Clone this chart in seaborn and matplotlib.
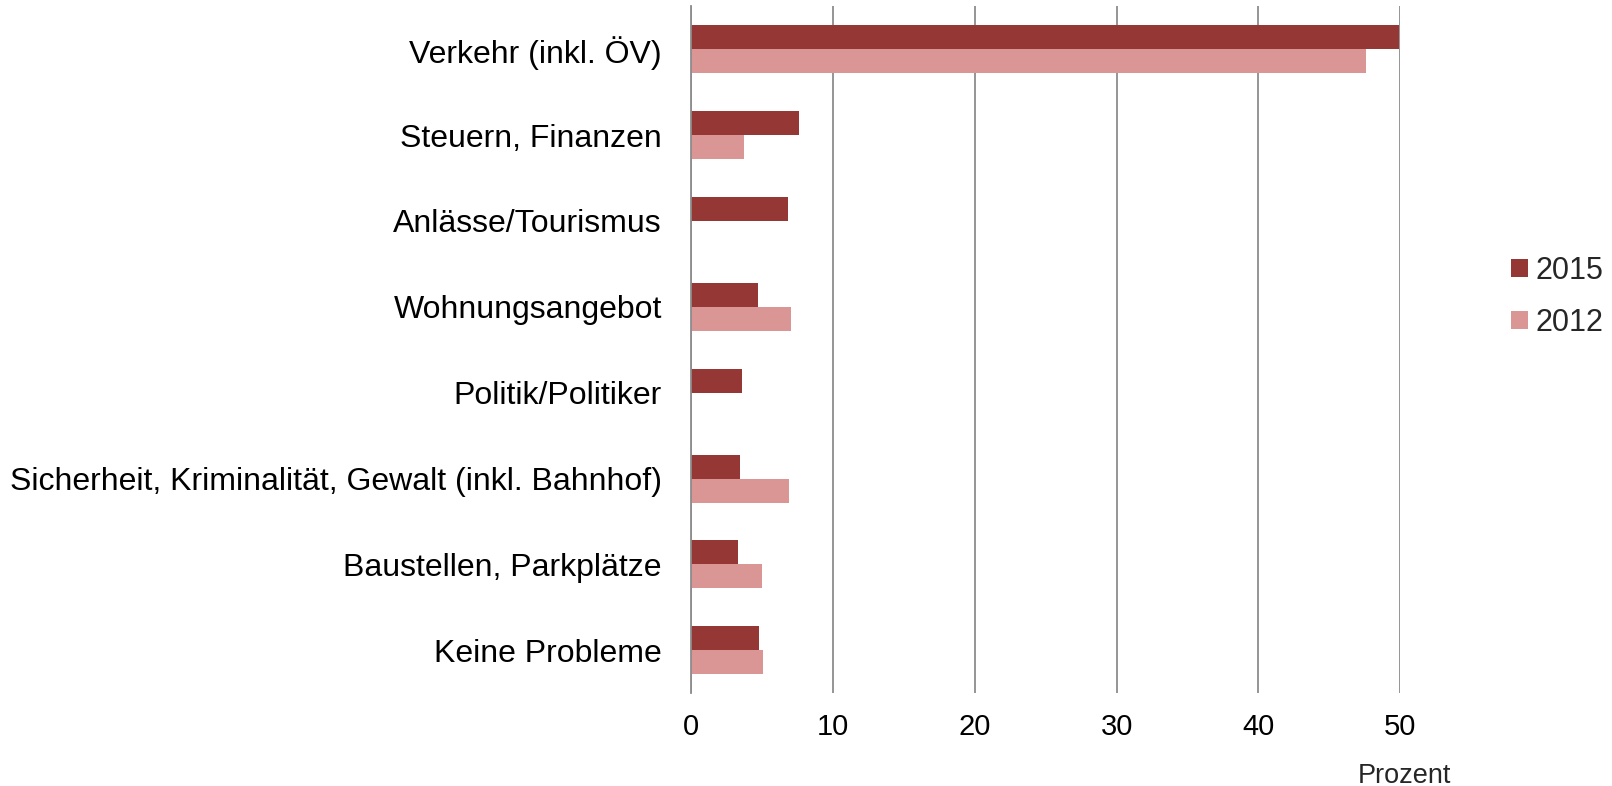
import numpy as np
import pandas as pd
import matplotlib
matplotlib.use("Agg")
import matplotlib.pyplot as plt
import seaborn as sns

categories = ["Verkehr (inkl. ÖV)", "Steuern, Finanzen", "Anlässe/Tourismus", "Wohnungsangebot",
              "Politik/Politiker", "Sicherheit, Kriminalität, Gewalt (inkl. Bahnhof)",
              "Baustellen, Parkplätze", "Keine Probleme"]
values_2015 = [49.9, 7.6, 6.85, 4.75, 3.6, 3.45, 3.3, 4.8]
values_2012 = [47.6, 3.75, np.nan, 7.05, np.nan, 6.9, 5.0, 5.05]
years = ["2015", "2012"]
x_ticks = [0, 10, 20, 30, 40, 50]

df = pd.DataFrame({
    "Kategorie": categories * 2,
    "Jahr": [years[0]] * len(categories) + [years[1]] * len(categories),
    "Wert": values_2015 + values_2012,
})

sns.set_theme(style="white")
plt.rcParams["font.family"] = ["Liberation Sans", "DejaVu Sans"]

fig = plt.figure(figsize=(16.12, 7.86), dpi=100)
ax = fig.add_axes([0.4287, 0.118, 0.44, 0.874])

palette = {"2015": "#953735", "2012": "#D99694"}
sns.barplot(data=df, y="Kategorie", x="Wert", hue="Jahr", hue_order=years,
            order=categories, palette=palette, orient="h", width=0.56,
            saturation=1, edgecolor="none", ax=ax, legend=True)

ax.set_xlim(0, 50)
ax.set_xticks(x_ticks)
ax.xaxis.grid(True, color="#8c8c8c", linewidth=1.3)
ax.yaxis.grid(False)
ax.set_axisbelow(True)
for s in ["top", "right", "bottom"]:
    ax.spines[s].set_visible(False)
ax.spines["left"].set_color("#8c8c8c")
ax.spines["left"].set_linewidth(1.3)
ax.set_ylabel("")
ax.set_xlabel("")
ax.tick_params(axis="y", labelsize=23, length=0, pad=21, colors="black")
ax.tick_params(axis="x", labelsize=21, length=0, pad=14, colors="black")
ax.set_ylim(len(categories) - 0.5, -0.5)

fig.text(0.900, 0.0127, "Prozent", ha="right", va="center", fontsize=19.5)

leg = ax.legend(loc="center left", bbox_to_anchor=(0.9373, 0.6225),
                bbox_transform=fig.transFigure, frameon=False, borderpad=0,
                borderaxespad=0, fontsize=22, handlelength=0.56, handleheight=0.56,
                handletextpad=0.25, labelspacing=0.72)

fig.savefig("out.png", dpi=100)
